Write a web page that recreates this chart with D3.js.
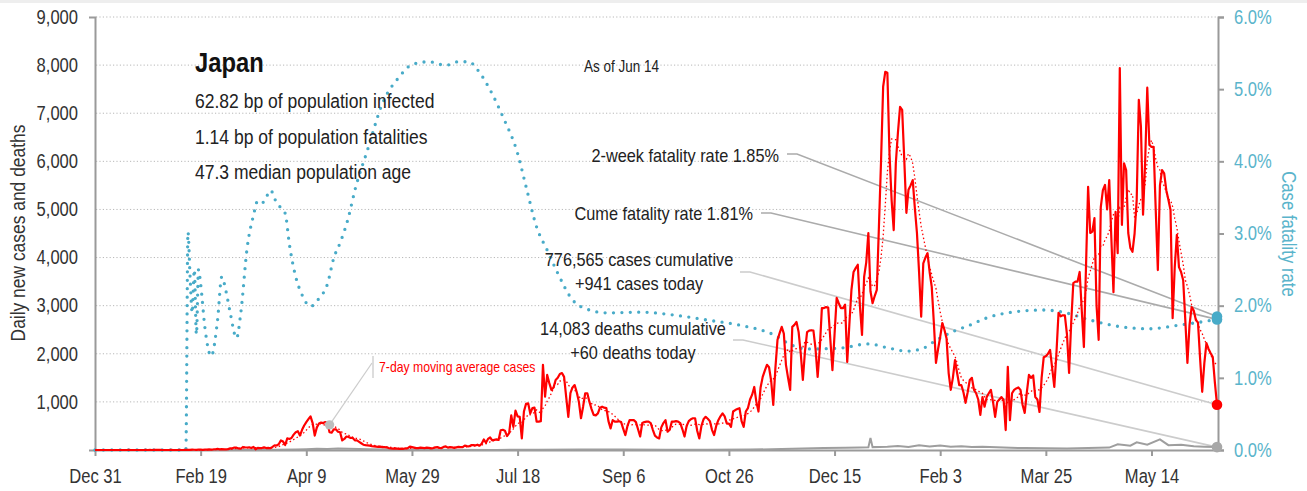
<!DOCTYPE html>
<html>
<head>
<meta charset="utf-8">
<script src="https://cdn.jsdelivr.net/npm/d3@7"></script>
<style>
  body { margin: 0; background: #fff; }
  svg { display: block; }
</style>
</head>
<body>
<div id="chart"></div>
<script>
  const FONT = '"Liberation Sans", Arial, sans-serif'
  const SQUEEZE = 0.85 // horizontal squeeze to imitate a condensed face

  const country = "Japan"
  const startDate = "2019-12-31"
  const infoLines = ["62.82 bp of population infected", "1.14 bp of population fatalities", "47.3 median population age"]
  const totalCases = 776565
  const totalDeaths = 14083
  const twoWeekRate = 1.85
  const cumeRate = 1.81

  // daily new cases, one line per month, starting Dec 31 2019
  const cases = [
    0,
    0,0,0,0,0,0,0,0,0,0,0,0,0,0,0,1,0,0,0,0,0,0,0,1,0,2,0,2,3,4,2,
    0,0,0,0,5,0,0,0,1,0,1,4,3,3,8,5,3,6,7,3,6,8,11,9,12,16,22,14,18,
    13,14,19,33,35,52,48,32,26,63,56,52,55,41,64,15,44,39,40,54,40,43,37,65,96,94,124,199,175,104,243,
    230,250,320,370,390,300,420,510,580,640,700,560,300,470,550,570,560,580,560,370,360,430,430,380,370,200,230,280,270,250,
    250,200,200,170,140,110,100,95,90,80,75,70,65,70,60,60,55,40,35,30,35,30,25,30,25,35,40,70,60,50,40,
    40,50,45,40,50,45,35,40,55,60,45,40,65,75,50,60,55,45,55,65,60,60,90,80,75,100,100,95,110,90,
    130,220,150,230,260,200,210,220,210,410,420,400,290,350,720,480,820,700,690,240,800,960,970,760,870,880,590,590,600,1770,1110,
    1560,1390,1250,1300,1455,1500,1580,1600,1520,1100,690,1180,1300,1350,1200,1000,660,900,1180,1180,1000,850,730,720,760,880,900,880,870,600,450,
    620,590,590,600,580,440,310,500,620,620,620,580,430,280,560,580,590,590,560,420,300,260,240,470,560,620,380,420,590,590,
    600,590,560,430,280,500,600,640,660,660,400,240,500,640,690,650,600,420,310,500,620,700,760,700,550,550,480,800,830,850,870,
    600,480,800,870,1050,1150,1310,1000,800,1300,1520,1650,1770,1720,1440,935,1700,2290,2430,2560,2420,1770,1500,1250,2560,2600,2660,2450,2010,1455,
    2050,2450,2480,2490,2480,2100,1520,2100,2950,2950,2970,2960,2300,1660,2400,3160,3050,2950,2950,3020,1830,2600,3330,3700,3780,3850,3000,2390,3600,3900,4510,
    3300,3050,3200,3330,4640,6000,7550,7860,7840,6170,5200,4570,5960,6600,7130,7070,6030,4930,5410,5500,5610,5030,4510,3700,2770,3880,4000,4090,3700,3390,2640,
    1810,2100,2350,2640,2500,2320,1600,1250,1500,1870,1600,1350,1350,1200,980,1200,1455,1500,1250,1180,1050,730,1100,900,1100,1180,1250,1000,
    690,1000,1050,1100,1040,415,1730,620,1180,1250,1280,1300,1250,935,770,1200,1560,1500,1550,1100,1050,790,1500,1930,1950,2000,2080,1700,1310,2000,2850,
    2780,2800,2800,2400,1600,2650,3470,3500,3500,3700,2900,2140,3800,5470,4510,4540,4820,3000,2290,5050,5400,5510,5000,5610,4400,3280,4950,4090,7940,4680,
    5960,5820,4510,4200,4120,4500,5200,7280,6720,4890,6000,7530,6340,6300,6300,5000,3740,5500,5820,5750,5400,5200,4990,2740,3800,4470,3800,3700,3530,2700,1810,
    2600,2970,2900,2700,2650,1900,1210,1800,2220,2100,2010,1930,1400,941
  ]

  // daily deaths, read at these day offsets from the start date
  const deathDays = [0,50,70,85,95,100,105,110,115,120,125,130,140,160,190,210,230,250,270,290,310,325,335,345,355,362,366,367,368,375,380,385,390,395,400,405,410,415,420,430,440,450,460,470,480,484,490,493,498,504,508,514,520,525,531]
  const deaths = [0,0,1,3,8,15,25,20,30,25,20,15,10,3,2,5,12,10,6,6,8,20,30,40,45,50,55,250,60,70,85,65,100,75,95,70,80,60,65,50,40,35,30,40,50,120,90,160,110,220,100,110,80,70,60]

  // case fatality rate (%), read at these day offsets
  const cfrDays = [0,43,44,45,46,47,48,49,50,52,55,58,60,62,64,67,69,72,75,77,79,81,83,86,90,92,95,98,102,106,110,113,116,120,123,129,136,144,150,158,166,172,177,181,187,193,200,204,209,214,219,226,234,242,258,274,290,305,321,330,337,352,366,376,384,392,398,406,414,422,434,449,458,471,485,499,513,529,531]
  const cfr = [0,0,3.02,2.4,1.9,2.5,1.6,2.5,2.3,1.7,1.3,1.8,2.4,2.2,1.9,1.55,1.9,2.8,3.25,3.45,3.42,3.5,3.6,3.42,3.28,2.85,2.4,2.15,1.99,2.1,2.3,2.66,2.87,3.23,3.6,4.16,4.8,5.17,5.34,5.38,5.33,5.38,5.38,5.27,4.99,4.62,4.11,3.65,3.09,2.77,2.45,2.08,1.94,1.9,1.91,1.87,1.8,1.73,1.6,1.45,1.4,1.41,1.47,1.41,1.37,1.41,1.52,1.64,1.73,1.83,1.91,1.94,1.91,1.8,1.71,1.68,1.73,1.8,1.81]

  const xTickLabels = ["2019-12-31","2020-02-19","2020-04-09","2020-05-29","2020-07-18","2020-09-06","2020-10-26","2020-12-15","2021-02-03","2021-03-25","2021-05-14"]
  const yTicks = [0,1000,2000,3000,4000,5000,6000,7000,8000,9000]
  const yRightTicks = [0,1,2,3,4,5,6]
  const calloutDay = "2020-04-20"

  const parse = d3.timeParse("%Y-%m-%d")
  const t0 = parse(startDate)
  const dayDate = i => d3.timeDay.offset(t0, i)
  const lastDate = dayDate(cases.length - 1)

  const width = 1307, height = 491
  const plotLeft = 95, plotRight = 1217, plotTop = 17, plotBottom = 450

  const x = d3.scaleTime().domain([t0, lastDate]).range([plotLeft, plotRight])
  const y = d3.scaleLinear().domain([0, 9000]).range([plotBottom, plotTop])
  const yR = d3.scaleLinear().domain([0, 6]).range([plotBottom, plotTop])

  const avg7 = cases.map((v, i) => d3.mean(cases.slice(Math.max(0, i - 6), i + 1)))

  const svg = d3.select("#chart").append("svg")
    .attr("width", width)
    .attr("height", height)
    .attr("font-family", FONT)

  // squeezed text helper
  const label = (parent, tx, ty, str, opts = {}) => parent.append("text")
    .attr("transform", `translate(${tx},${ty})${opts.rotate ? ` rotate(${opts.rotate})` : ""} scale(${SQUEEZE},1)`)
    .attr("text-anchor", opts.anchor || "start")
    .attr("font-size", opts.size || 19)
    .attr("font-weight", opts.weight || null)
    .attr("fill", opts.color || "#222")
    .text(str)

  svg.append("rect").attr("width", width).attr("height", 3).attr("fill", "#eeeeee")

  // grid
  svg.append("g")
    .selectAll("line")
    .data(yTicks.filter(d => d > 0))
    .join("line")
      .attr("x1", plotLeft + 1).attr("x2", plotRight)
      .attr("y1", d => y(d)).attr("y2", d => y(d))
      .attr("stroke", "#b8b8b8")
      .attr("stroke-dasharray", "1.2,2.2")

  // axes
  const styleAxis = (g, color, tx) => {
    g.attr("font-family", FONT).attr("font-size", 19.5)
    g.select(".domain").attr("stroke", "#9a9a9a").attr("stroke-width", 2)
    g.selectAll(".tick line").attr("stroke", "#9a9a9a").attr("stroke-width", 2)
    g.selectAll(".tick text").attr("fill", color).attr("transform", `scale(${SQUEEZE},1)`)
    if (tx !== undefined) g.selectAll(".tick text").attr("x", tx / SQUEEZE)
  }

  svg.append("g")
    .attr("transform", `translate(${plotLeft},0)`)
    .call(d3.axisLeft(y).tickValues(yTicks.slice(1)).tickFormat(d3.format(",")).tickSizeInner(0).tickSizeOuter(6).tickPadding(17))
    .call(g => styleAxis(g, "#333", -17))

  svg.append("g")
    .attr("transform", `translate(${plotRight + 1},0)`)
    .call(d3.axisRight(yR).tickValues(yRightTicks).tickFormat(d => d.toFixed(1) + "%").tickSize(6).tickPadding(10))
    .call(g => styleAxis(g, "#5ab4cb", 16))

  svg.append("g")
    .attr("transform", `translate(0,${plotBottom})`)
    .call(d3.axisBottom(x).tickValues(xTickLabels.map(parse)).tickFormat(d3.timeFormat("%b %-d")).tickSize(6).tickSizeOuter(0).tickPadding(13))
    .call(g => styleAxis(g, "#333"))

  label(svg, 25, 233, "Daily new cases and deaths", {rotate: -90, anchor: "middle", size: 20.5, color: "#333"})
  label(svg, 1282, 234, "Case fatality rate", {rotate: 90, anchor: "middle", size: 19.7, color: "#5ab4cb"})

  // annotation lines pointing at today's values
  const fmt = d3.format(",")
  const notes = [
    {lines: [`2-week fatality rate ${twoWeekRate.toFixed(2)}%`], anchor: "end", tx: 779, ty: 162, lx: 787, ly: 154, ey: yR(twoWeekRate), color: "#ababab"},
    {lines: [`Cume fatality rate ${cumeRate.toFixed(2)}%`], anchor: "end", tx: 753, ty: 220, lx: 761, ly: 213, ey: yR(cumeRate), color: "#ababab"},
    {lines: [`${fmt(totalCases)} cases cumulative`, `+${fmt(cases[cases.length - 1])} cases today`], anchor: "middle", tx: 639, ty: 266, lx: 740, ly: 272, ey: y(cases[cases.length - 1]), color: "#cccccc"},
    {lines: [`${fmt(totalDeaths)} deaths cumulative`, `+${fmt(deaths[deaths.length - 1])} deaths today`], anchor: "middle", tx: 633, ty: 335, lx: 733, ly: 340, ey: y(deaths[deaths.length - 1]), color: "#cccccc"}
  ]

  svg.append("g")
    .selectAll("path")
    .data(notes)
    .join("path")
      .attr("fill", "none")
      .attr("stroke", d => d.color)
      .attr("stroke-width", 1.6)
      .attr("d", d => `M${d.lx},${d.ly}H${d.lx + 10}L${x(lastDate)},${d.ey}`)

  // 7-day average callout
  const cIdx = d3.timeDay.count(t0, parse(calloutDay))
  const cx = x(dayDate(cIdx)), cy = y(avg7[cIdx])
  svg.append("path")
    .attr("d", `M${cx},${cy}L372,363`)
    .attr("stroke", "#cccccc").attr("stroke-width", 1.2).attr("fill", "none")
  svg.append("line")
    .attr("x1", 373).attr("x2", 373).attr("y1", 356).attr("y2", 378)
    .attr("stroke", "#d5d5d5").attr("stroke-width", 1.6)

  // series
  const deathSeries = deathDays.map((d, i) => ({date: dayDate(d), value: deaths[i]}))
  const cfrSeries = cfrDays.map((d, i) => ({date: dayDate(d), value: cfr[i]}))
  const caseSeries = cases.map((v, i) => ({date: dayDate(i), value: v}))
  const avgSeries = avg7.map((v, i) => ({date: dayDate(i), value: v}))

  const line = d3.line().x(d => x(d.date)).y(d => y(d.value))
  const lineR = d3.line().x(d => x(d.date)).y(d => yR(d.value)).curve(d3.curveMonotoneX)

  svg.append("path").datum(deathSeries)
    .attr("fill", "none").attr("stroke", "#9e9e9e").attr("stroke-width", 2)
    .attr("d", line)

  svg.append("path").datum(cfrSeries)
    .attr("fill", "none").attr("stroke", "#48abc8").attr("stroke-width", 3.3)
    .attr("stroke-linecap", "round").attr("stroke-dasharray", "0,8.4")
    .attr("d", lineR)

  svg.append("path").datum(avgSeries)
    .attr("fill", "none").attr("stroke", "#ff0000").attr("stroke-width", 1.3)
    .attr("stroke-dasharray", "1.5,2.5")
    .attr("d", line)

  svg.append("path").datum(caseSeries)
    .attr("fill", "none").attr("stroke", "#ff0000").attr("stroke-width", 2.2)
    .attr("stroke-linejoin", "round")
    .attr("d", line)

  // markers
  svg.append("circle").attr("cx", cx).attr("cy", cy).attr("r", 4.7).attr("fill", "#bdbdbd")
  const markers = [
    {v: yR(twoWeekRate), c: "#48abc8"},
    {v: yR(cumeRate), c: "#48abc8"},
    {v: y(cases[cases.length - 1]), c: "#ff0000"},
    {v: y(deaths[deaths.length - 1]), c: "#a8a8a8"}
  ]
  svg.append("g").selectAll("circle").data(markers).join("circle")
    .attr("cx", x(lastDate)).attr("cy", d => d.v).attr("r", 5.3).attr("fill", d => d.c)

  // texts
  label(svg, 379, 372, "7-day moving average cases", {size: 14.4, color: "#ff0000"})
  label(svg, 195, 72, country, {size: 28, weight: "bold", color: "#111"})
  infoLines.forEach((s, i) => label(svg, 195, 108 + i * 35.5, s, {size: 20.6}))
  label(svg, 584, 72, "As of " + d3.timeFormat("%b %-d")(lastDate), {size: 15.9})

  notes.forEach(d => d.lines.forEach((s, i) =>
    label(svg, d.tx, d.ty + i * 24, s, {anchor: d.anchor, size: 19.2})))
</script>
</body>
</html>
